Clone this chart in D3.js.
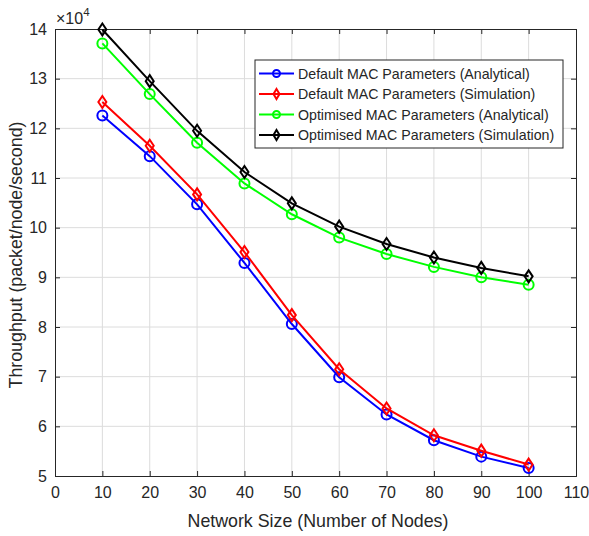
<!DOCTYPE html>
<html><head><meta charset="utf-8">
<script src="https://cdn.jsdelivr.net/npm/d3@7"></script>
<style>body{margin:0;background:#fff}svg{display:block}text{font-family:"Liberation Sans",Arial,sans-serif}</style>
</head><body><svg id="c" width="589" height="536"></svg>
<script>
const nodes = [10,20,30,40,50,60,70,80,90,100];
const defaultAnalytical = [12.26,11.44,10.47,9.29,8.06,6.99,6.24,5.72,5.39,5.16];
const defaultSimulation = [12.53,11.65,10.67,9.51,8.24,7.15,6.36,5.82,5.51,5.23];
const optimisedAnalytical = [13.71,12.69,11.71,10.89,10.27,9.80,9.47,9.21,9.00,8.85];
const optimisedSimulation = [13.99,12.95,11.95,11.12,10.49,10.02,9.67,9.40,9.19,9.02];
const xTicks = [0,10,20,30,40,50,60,70,80,90,100,110];
const yTicks = [5,6,7,8,9,10,11,12,13,14];
const seriesNames = ["Default MAC Parameters (Analytical)","Default MAC Parameters (Simulation)","Optimised MAC Parameters (Analytical)","Optimised MAC Parameters (Simulation)"];
const seriesColors = ["#0000ff","#ff0000","#00ff00","#000000"];
const seriesMarkers = ["circle","diamond","circle","diamond"];
const seriesValues = [defaultAnalytical, defaultSimulation, optimisedAnalytical, optimisedSimulation];

const svg = d3.select("#c");
const L=55, R=576, T=29, B=476;
const x = d3.scaleLinear().domain([0,110]).range([L,R]);
const y = d3.scaleLinear().domain([5,14]).range([B,T]);
const axisCol = "#262626";

// grid
const g = svg.append("g");
g.selectAll(".gx").data(xTicks.slice(1,-1)).enter().append("line")
 .attr("x1",d=>x(d)).attr("x2",d=>x(d)).attr("y1",T).attr("y2",B)
 .attr("stroke","#dcdcdc").attr("stroke-width",1);
g.selectAll(".gy").data(yTicks.slice(1,-1)).enter().append("line")
 .attr("y1",d=>y(d)).attr("y2",d=>y(d)).attr("x1",L).attr("x2",R)
 .attr("stroke","#dcdcdc").attr("stroke-width",1);

// axes
const ax = d3.axisBottom(x).tickValues(xTicks).tickSize(-5).tickPadding(11).tickFormat(d3.format("d"));
const ay = d3.axisLeft(y).tickValues(yTicks).tickSize(-5).tickPadding(8).tickFormat(d3.format("d"));
const axT = d3.axisTop(x).tickValues(xTicks).tickSize(-5).tickFormat("");
const ayR = d3.axisRight(y).tickValues(yTicks).tickSize(-5).tickFormat("");
function style(sel){
  sel.selectAll("path,line").attr("stroke",axisCol).attr("stroke-width",1);
  sel.selectAll("text").attr("fill",axisCol).attr("font-size",16);
}
svg.append("g").attr("transform",`translate(0,${B})`).call(ax).call(style);
svg.append("g").attr("transform",`translate(${L},0)`).call(ay).call(style);
svg.append("g").attr("transform",`translate(0,${T})`).call(axT).call(style);
svg.append("g").attr("transform",`translate(${R},0)`).call(ayR).call(style);

// exponent
const ex = svg.append("text").attr("x",56).attr("y",24).attr("fill",axisCol).attr("font-size",16);
ex.append("tspan").text("×10");
ex.append("tspan").attr("dy",-8).attr("font-size",11.5).text("4");

// labels
svg.append("text").attr("x",318).attr("y",527).attr("text-anchor","middle")
 .attr("font-size",17.8).attr("fill",axisCol).text("Network Size (Number of Nodes)");
svg.append("text").attr("transform",`translate(22,255) rotate(-90)`).attr("text-anchor","middle")
 .attr("font-size",17.8).attr("fill",axisCol).text("Throughput (packet/node/second)");

const line = d3.line().x((d,i)=>x(nodes[i])).y(d=>y(d));
const diamond = "M0,-6L4,0L0,6L-4,0Z";
function marker(sel, type, col){
  if(type==="circle") sel.append("circle").attr("r",5).attr("fill","none").attr("stroke",col).attr("stroke-width",2);
  else sel.append("path").attr("d",diamond).attr("fill","none").attr("stroke",col).attr("stroke-width",2);
}
seriesValues.forEach((vals,k)=>{
  const col = seriesColors[k];
  svg.append("path").datum(vals).attr("d",line).attr("fill","none").attr("stroke",col).attr("stroke-width",2);
  vals.forEach((v,i)=>{
    const m = svg.append("g").attr("transform",`translate(${x(nodes[i])},${y(v)})`);
    marker(m, seriesMarkers[k], col);
  });
});

// legend
const lg = svg.append("g");
lg.append("rect").attr("x",255).attr("y",60).attr("width",308).attr("height",88)
 .attr("fill","#fff").attr("stroke",axisCol).attr("stroke-width",1);
seriesNames.forEach((n,k)=>{
  const yy = 73.5 + k*20.5;
  lg.append("line").attr("x1",259).attr("x2",294).attr("y1",yy).attr("y2",yy).attr("stroke",seriesColors[k]).attr("stroke-width",2);
  const m = lg.append("g").attr("transform",`translate(276.5,${yy})`);
  if(seriesMarkers[k]==="circle") m.append("circle").attr("r",3.5).attr("fill","none").attr("stroke",seriesColors[k]).attr("stroke-width",2);
  else m.append("path").attr("d","M0,-5L3,0L0,5L-3,0Z").attr("fill","none").attr("stroke",seriesColors[k]).attr("stroke-width",2);
  lg.append("text").attr("x",298).attr("y",yy+5).attr("font-size",14.2).attr("fill",axisCol).text(n);
});
</script></body></html>
